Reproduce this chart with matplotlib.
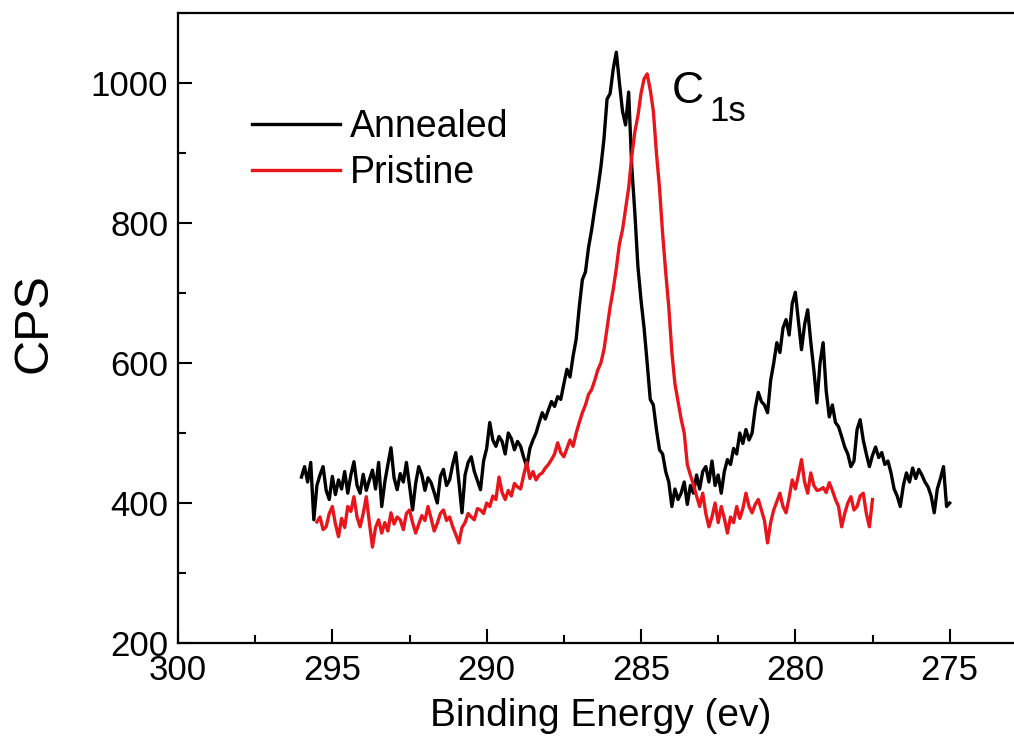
import numpy as np
import matplotlib
matplotlib.use('Agg')
import matplotlib.pyplot as plt
from matplotlib.ticker import MultipleLocator

plt.rcParams['font.family'] = ['Liberation Sans', 'DejaVu Sans']

# C1s XPS spectra (0.1 eV steps)
annealed_start, annealed_end = 296.0, 275.0
annealed_cps = [
    437, 452, 430, 458, 376, 425, 440, 452, 418, 405,
    438, 412, 433, 420, 445, 414, 440, 459, 425, 414,
    441, 418, 433, 447, 420, 458, 395, 430, 455, 479,
    436, 419, 442, 430, 458, 425, 390, 428, 452, 440,
    418, 436, 429, 415, 400, 438, 448, 425, 433, 455,
    472, 430, 386, 440, 458, 466, 445, 432, 419, 460,
    478, 515, 490, 481, 495, 488, 470, 500, 492, 476,
    488, 481, 465, 452, 478, 490, 500, 515, 529, 520,
    533, 545, 538, 552, 548, 570, 591, 580, 610, 634,
    680, 719, 730, 765, 790, 820, 848, 880, 920, 977,
    985, 1020, 1044, 1001, 960, 940, 987, 881, 815, 738,
    690, 650, 600, 548, 540, 505, 476, 470, 445, 430,
    395, 420, 405, 414, 430, 398, 425, 414, 440, 420,
    445, 452, 430, 460, 425, 440, 414, 445, 462, 455,
    478, 470, 500, 485, 505, 490, 500, 535, 558, 545,
    540, 529, 575, 600, 629, 615, 650, 662, 640, 685,
    701, 660, 619, 655, 676, 630, 590, 543, 600, 629,
    560, 523, 540, 515, 509, 495, 480, 470, 452, 460,
    505, 519, 490, 470, 452, 468, 480, 465, 472, 455,
    460, 443, 420, 410, 395, 425, 443, 430, 450, 435,
    448, 440, 430, 423, 410, 386, 420, 435, 452, 395,
    400,
]

pristine_start, pristine_end = 295.5, 277.5
pristine_cps = [
    373, 380, 362, 366, 385, 395, 370, 352, 378, 365,
    395, 388, 409, 380, 366, 385, 409, 372, 337, 365,
    376, 357, 372, 360, 386, 370, 380, 376, 362, 385,
    390, 372, 357, 370, 382, 375, 395, 378, 360, 371,
    385, 390, 375, 380, 366, 355, 343, 365, 372, 385,
    380, 376, 392, 390, 385, 400, 395, 410, 405, 437,
    415, 405, 418, 410, 428, 423, 420, 440, 458, 435,
    445, 433, 440, 443, 450, 455, 462, 470, 486, 472,
    466, 478, 490, 481, 500, 515, 529, 540, 555, 562,
    575, 590, 600, 619, 650, 680, 705, 735, 770, 790,
    820, 850, 895, 930, 953, 985, 1006, 1013, 990, 960,
    900, 850, 785, 730, 680, 615, 570, 545, 520, 500,
    455, 440, 426, 410, 395, 414, 385, 366, 380, 400,
    372, 395, 378, 357, 380, 372, 395, 378, 392, 414,
    395, 386, 398, 405, 390, 375, 343, 372, 390, 402,
    414, 395, 386, 408, 433, 420, 440, 462, 430, 414,
    443, 425, 418, 419, 422, 415, 429, 418, 405, 395,
    366, 385, 400, 409, 390, 395, 410, 414, 385, 366,
    405,
]

x_ticks = [300, 295, 290, 285, 280, 275]

annealed_be = np.linspace(annealed_start, annealed_end, len(annealed_cps))
pristine_be = np.linspace(pristine_start, pristine_end, len(pristine_cps))

fig = plt.figure(figsize=(10.14, 7.54), dpi=100)
# axes runs past the right edge like the cropped original
ax = fig.add_axes([178 / 1014, 111 / 754, 926 / 1014, 630 / 754])

ax.plot(annealed_be, annealed_cps, color='black', lw=2.4, label='Annealed')
ax.plot(pristine_be, pristine_cps, color='#e8151b', lw=2.4, label='Pristine')

ax.set_xlim(300, 270)
ax.set_ylim(200, 1100)
ax.set_xticks(x_ticks)
ax.xaxis.set_minor_locator(MultipleLocator(2.5))
ax.yaxis.set_major_locator(MultipleLocator(200))
ax.yaxis.set_minor_locator(MultipleLocator(100))
ax.tick_params(which='both', direction='in', width=1.5, labelsize=25)
ax.tick_params(which='major', length=10)
ax.tick_params(which='minor', length=6)
ax.tick_params(axis='x', pad=8)
ax.tick_params(axis='y', pad=7)
for sp in ax.spines.values():
    sp.set_linewidth(1.6)

ax.set_xlabel('Binding Energy (ev)', fontsize=28)
ax.set_ylabel('CPS', fontsize=35)
ax.xaxis.set_label_coords(0.456, -0.088)
ax.yaxis.set_label_coords(-0.131, 0.508)

ax.text(284.0, 972, 'C', fontsize=32, ha='left', va='baseline')
ax.text(282.8, 946, '1s', fontsize=25, ha='left', va='baseline')

ax.legend(loc='upper left', bbox_to_anchor=(0.08, 0.847), frameon=False,
          fontsize=27, handlelength=2.35, handletextpad=0.25,
          labelspacing=0.25, borderpad=0, borderaxespad=0)

fig.savefig('out.png', dpi=100)
